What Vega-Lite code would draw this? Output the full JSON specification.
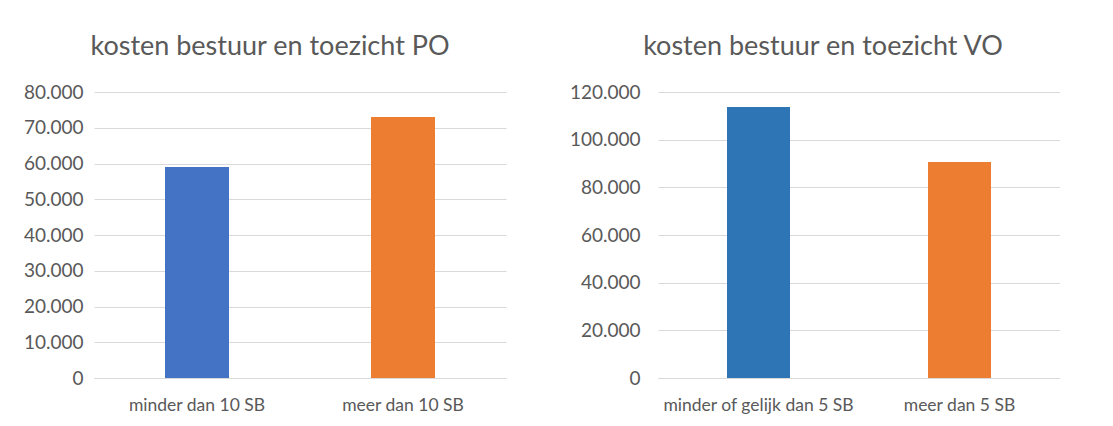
{
  "$schema": "https://vega.github.io/schema/vega-lite/v6.json",
  "background": "white",
  "padding": {"left": 23, "top": 33, "right": 0, "bottom": 0},
  "spacing": 63,
  "resolve": {"scale": {"color": "independent"}},
  "config": {
    "font": "Lato",
    "view": {"stroke": null},
    "title": {"fontSize": 27, "font": "Lato", "fontWeight": "normal", "color": "#595959", "offset": 22, "frame": "group"},
    "axis": {"labelFont": "Lato", "labelColor": "#595959", "ticks": false, "title": null, "gridColor": "#D9D9D9", "domainColor": "#D9D9D9", "labelLimit": 0}
  },
  "hconcat": [
    {
      "title": {"text": "kosten bestuur en toezicht PO", "dx": -30},
      "width": 412,
      "height": 286,
      "data": {"values": [
        {"categorie": "minder dan 10 SB", "kosten": 59000},
        {"categorie": "meer dan 10 SB", "kosten": 73000}
      ]},
      "mark": {"type": "bar", "size": 64},
      "encoding": {
        "x": {"field": "categorie", "type": "nominal", "sort": null,
              "scale": {"paddingInner": 0, "paddingOuter": 0},
              "axis": {"labelAngle": 0, "labelFontSize": 17.5, "labelPadding": 18, "grid": false, "domain": true}},
        "y": {"field": "kosten", "type": "quantitative",
              "scale": {"domain": [0, 80000], "nice": false},
              "axis": {"values": [0, 10000, 20000, 30000, 40000, 50000, 60000, 70000, 80000],
                       "labelExpr": "replace(format(datum.value, ','), ',', '.')",
                       "labelFontSize": 19, "labelPadding": 11, "domain": false, "grid": true}},
        "color": {"field": "categorie", "type": "nominal", "legend": null,
                  "scale": {"domain": ["minder dan 10 SB", "meer dan 10 SB"], "range": ["#4472C4", "#ED7D31"]}}
      }
    },
    {
      "title": {"text": "kosten bestuur en toezicht VO", "dx": -36},
      "width": 402,
      "height": 286,
      "data": {"values": [
        {"categorie": "minder of gelijk dan 5 SB", "kosten": 113700},
        {"categorie": "meer dan 5 SB", "kosten": 90600}
      ]},
      "mark": {"type": "bar", "size": 63},
      "encoding": {
        "x": {"field": "categorie", "type": "nominal", "sort": null,
              "scale": {"paddingInner": 0, "paddingOuter": 0},
              "axis": {"labelAngle": 0, "labelFontSize": 17.5, "labelPadding": 18, "grid": false, "domain": true}},
        "y": {"field": "kosten", "type": "quantitative",
              "scale": {"domain": [0, 120000], "nice": false},
              "axis": {"values": [0, 20000, 40000, 60000, 80000, 100000, 120000],
                       "labelExpr": "replace(format(datum.value, ','), ',', '.')",
                       "labelFontSize": 19, "labelPadding": 18, "domain": false, "grid": true}},
        "color": {"field": "categorie", "type": "nominal", "legend": null,
                  "scale": {"domain": ["minder of gelijk dan 5 SB", "meer dan 5 SB"], "range": ["#2E75B6", "#ED7D31"]}}
      }
    }
  ]
}
